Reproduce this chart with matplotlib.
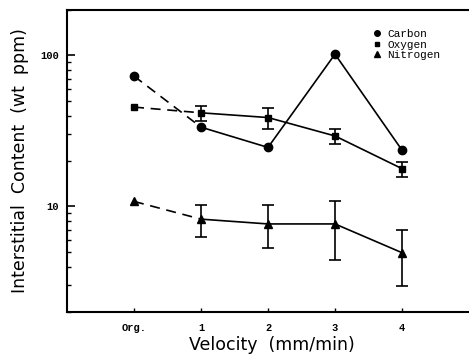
import numpy as np
import matplotlib
matplotlib.use("Agg")
import matplotlib.pyplot as plt
from matplotlib.lines import Line2D
from matplotlib.ticker import LogLocator, FixedLocator, FixedFormatter, NullFormatter

# values
velocity = [0, 1, 2, 3, 4]
velocity_labels = ["Org.", "1", "2", "3", "4"]

carbon = [73, 33.5, 24.6, 102, 23.6]

oxygen = [45.5, 41.7, 38.8, 29.3, 17.8]
oxygen_lo = [36.9, 32.4, 26.0, 15.7]   # error bar ends for velocity 1..4
oxygen_hi = [46.6, 45.0, 32.4, 19.7]

nitrogen = [10.8, 8.24, 7.66, 7.66, 4.94]
nitrogen_lo = [6.3, 5.27, 4.43, 2.96]
nitrogen_hi = [10.3, 10.3, 10.9, 7.0]

mono = "Liberation Mono"

fig = plt.figure(figsize=(4.69, 3.60), dpi=100)
ax = fig.add_axes([67 / 469, 48 / 360, 410 / 469, 302 / 360])

series = [
    (carbon, "o", 6, None, None),
    (oxygen, "s", 5, oxygen_lo, oxygen_hi),
    (nitrogen, "^", 6, nitrogen_lo, nitrogen_hi),
]
for vals, mk, ms, lo, hi in series:
    # original sample joined by a dashed line, measured ones by solid
    ax.plot(velocity[:2], vals[:2], color="black", lw=1.2, ls=(0, (6, 4)))
    ax.plot(velocity[1:], vals[1:], color="black", lw=1.2)
    ax.plot(velocity, vals, ls="none", marker=mk, ms=ms, color="black")
    if lo is not None:
        v = np.array(vals[1:])
        yerr = [v - np.array(lo), np.array(hi) - v]
        ax.errorbar(velocity[1:], v, yerr=yerr, fmt="none", ecolor="black",
                    elinewidth=1.2, capsize=4, capthick=1.2)

ax.set_yscale("log")
ax.set_ylim(2, 200)
ax.set_xlim(-1, -1 + 6 * 410 / 402)

ax.xaxis.set_major_locator(FixedLocator(velocity))
ax.set_xticklabels(velocity_labels, fontfamily=mono, fontsize=7.5, fontweight="bold")
ax.yaxis.set_major_locator(FixedLocator([10, 100]))
ax.yaxis.set_major_formatter(FixedFormatter(["10", "100"]))
ax.yaxis.set_minor_locator(LogLocator(base=10, subs=np.arange(2, 10)))
ax.yaxis.set_minor_formatter(NullFormatter())
for lab in ax.get_yticklabels():
    lab.set_fontfamily(mono)
    lab.set_fontsize(7.5)
    lab.set_fontweight("bold")

ax.tick_params(axis="both", which="both", direction="in", top=False, right=False)
ax.tick_params(axis="y", which="major", length=6, width=1.2, pad=6)
ax.tick_params(axis="y", which="minor", length=3, width=1.0)
ax.tick_params(axis="x", which="major", length=3, width=1.0, pad=8)

for side in ["left", "bottom", "top"]:
    ax.spines[side].set_linewidth(1.5)
ax.spines["right"].set_visible(False)

ax.set_xlabel("Velocity  (mm/min)", fontfamily="DejaVu Sans", fontsize=12.5, labelpad=2)
ax.set_ylabel("Interstitial  Content  (wt  ppm)", fontfamily="DejaVu Sans", fontsize=12.5, labelpad=8)

handles = [
    Line2D([], [], ls="none", marker="o", ms=4, color="black"),
    Line2D([], [], ls="none", marker="s", ms=3.5, color="black"),
    Line2D([], [], ls="none", marker="^", ms=4, color="black"),
]
ax.legend(handles, ["Carbon", "Oxygen", "Nitrogen"], loc="upper left",
          bbox_to_anchor=(0.73, 0.955), frameon=False, handlelength=1,
          handletextpad=0.4, labelspacing=0.05, borderpad=0,
          prop={"family": mono, "size": 8})

fig.savefig("out.png", dpi=100)
